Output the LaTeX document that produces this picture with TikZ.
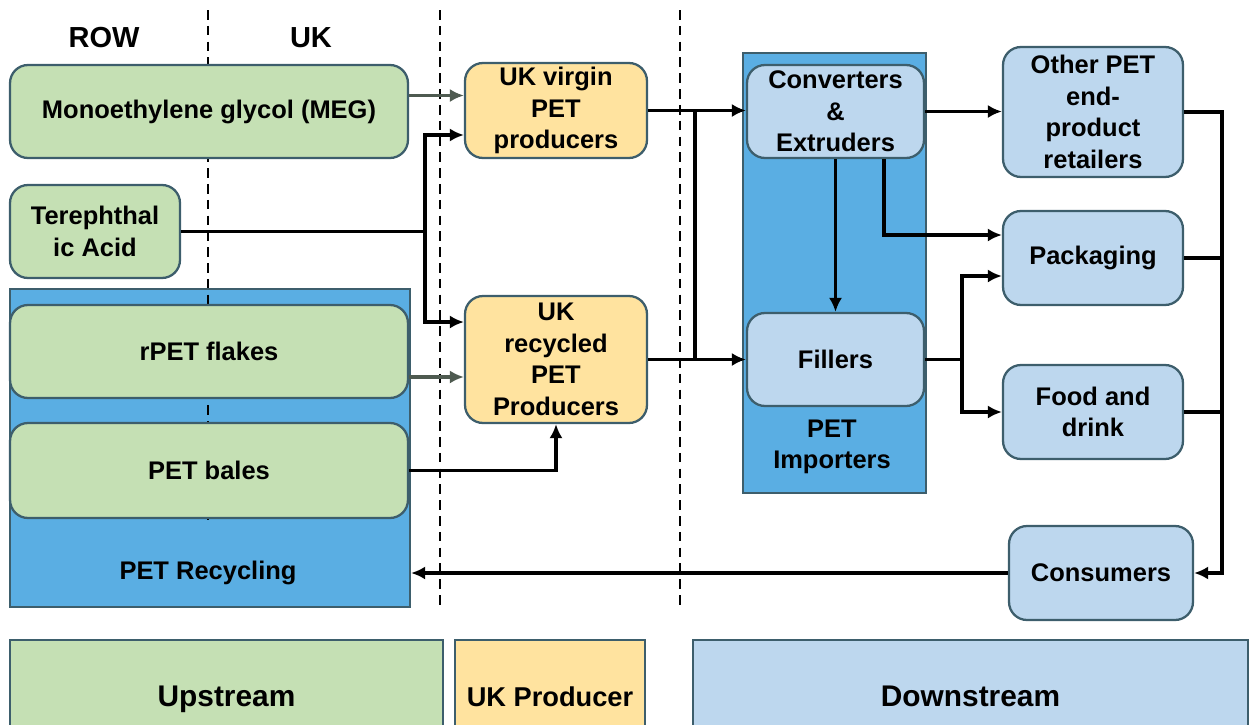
\documentclass[tikz,border=0pt]{standalone}
\usepackage{fontspec}
\setmainfont{Liberation Sans}
\usetikzlibrary{arrows.meta, positioning, calc}
\definecolor{upgreen}{HTML}{C5E0B4}
\definecolor{prodyellow}{HTML}{FFE39F}
\definecolor{downblue}{HTML}{BDD7EE}
\definecolor{groupblue}{HTML}{5AAEE3}
\definecolor{edgeslate}{HTML}{3D5E6C}
\definecolor{feedgray}{HTML}{4E5A50}
\tikzset{
x=0.02cm, y=-0.02cm, % one unit is one pixel of the reference
>={Latex[length=8pt, width=7.5pt]}, % filled arrow heads
boxtext/.style={font=\fontsize{14.5}{18}\selectfont\bfseries, align=center},
block/.style={boxtext, draw=edgeslate, line width=1.3pt, rounded corners=0.36cm, inner sep=0pt},
upbox/.style={block, fill=upgreen}, % upstream inputs
prodbox/.style={block, fill=prodyellow}, % UK producers
downbox/.style={block, fill=downblue}, % downstream actors
groupbox/.style={draw=edgeslate, line width=1.3pt, fill=groupblue, inner sep=0pt}, % grouping panels
legendbox/.style={draw=edgeslate, line width=1.3pt, inner sep=0pt},
legendtext/.style={font=\fontsize{17}{20}\selectfont\bfseries, anchor=base},
flow/.style={line width=2.1pt, black},
feed/.style={line width=2pt, feedgray},
divider/.style={line width=1.3pt, dash pattern=on 5.5pt off 3.5pt},
}
\begin{document}
\begin{tikzpicture}
    \useasboundingbox (0,0) rectangle (1254,724);
    \clip (0,0) rectangle (1254,724);

    % Grouping panels
    \node[groupbox, minimum width=8cm, minimum height=6.36cm] (recycling) at (210,448) {};
    \node[groupbox, minimum width=3.66cm, minimum height=8.8cm] (importers) at (834.5,273) {};

    % Region dividers
    \draw[divider] (208,10) -- (208,520);
    \draw[divider] (440,10) -- (440,610);
    \draw[divider] (680,10) -- (680,610);
    \node[font=\fontsize{16.5}{20}\selectfont\bfseries] (row) at (104,38) {ROW};
    \node[font=\fontsize{16.5}{20}\selectfont\bfseries] (uk) at (311,38) {UK};

    % Upstream
    \node[upbox, minimum width=7.96cm, minimum height=1.86cm] (meg) at (209,111.5) {Monoethylene glycol (MEG)};
    \node[upbox, minimum width=3.4cm, minimum height=1.86cm] (tpa) at (95,231.5) {Terephthal\\ic Acid};
    \node[upbox, minimum width=7.96cm, minimum height=1.86cm] (flakes) at (209,351.5) {rPET flakes};
    \node[upbox, minimum width=7.96cm, minimum height=1.9cm] (bales) at (209,470.5) {PET bales};
    \node[boxtext] (recyclinglabel) at (208,573) {PET Recycling};

    % UK producers
    \node[prodbox, minimum width=3.64cm, minimum height=1.9cm] (virgin) at (556,110.5) {UK virgin\\PET\\producers};
    \node[prodbox, minimum width=3.64cm, minimum height=2.54cm] (recycled) at (556,359.5) {UK\\recycled\\PET\\Producers};

    % Downstream
    \node[downbox, minimum width=3.54cm, minimum height=1.86cm] (conv) at (835.5,111.5) {Converters\\\&\\Extruders};
    \node[downbox, minimum width=3.54cm, minimum height=1.86cm] (fillers) at (835.5,359.5) {Fillers};
    \node[boxtext] (importerslabel) at (832,447) {PET\\Importers};
    \node[downbox, minimum width=3.6cm, minimum height=2.6cm] (other) at (1093,112) {Other PET\\end-\\product\\retailers};
    \node[downbox, minimum width=3.6cm, minimum height=1.88cm] (packaging) at (1093,258) {Packaging};
    \node[downbox, minimum width=3.6cm, minimum height=1.88cm] (food) at (1093,412) {Food and\\drink};
    \node[downbox, minimum width=3.68cm, minimum height=1.88cm] (consumers) at (1101,573) {Consumers};

    % Junctions
    \coordinate (tj) at (425,231.5);
    \coordinate (pj1) at (695,110.5);
    \coordinate (pj2) at (695,359.5);
    \coordinate (fj) at (962,359.5);
    \coordinate (rj) at (1222,573);

    % Into the producers
    \draw[feed, ->] ([yshift=0.32cm]meg.east) -- ([yshift=0.32cm]meg.east -| virgin.west);
    \draw[flow] (tpa.east) -- (tj);
    \draw[flow, ->] (tj) |- ([yshift=-0.49cm]virgin.west);
    \draw[flow, ->] (tj) |- ([yshift=0.75cm]recycled.west);
    \draw[feed, ->] ([yshift=-0.51cm]flakes.east) -- ([yshift=-0.51cm]flakes.east -| recycled.west);
    \draw[flow, ->] (bales.east) -| (recycled.south);

    % Producers to downstream
    \draw[flow, ->] (virgin.east) -- (virgin.east -| conv.west);
    \draw[flow, ->] (recycled.east) -- (fillers.west);
    \draw[flow] (pj1) -- (pj2);
    \draw[flow, ->] (conv.east) -- (conv.east -| other.west);
    \draw[flow, ->] (conv.south) -- (fillers.north);
    \draw[flow, ->] ([xshift=0.97cm]conv.south) |- ([yshift=0.46cm]packaging.west);
    \draw[flow] (fillers.east) -- (fj);
    \draw[flow, ->] (fj) |- ([yshift=-0.36cm]packaging.west);
    \draw[flow, ->] (fj) |- (food.west);

    % Back to consumers and recycling
    \draw[flow] (packaging.east) -- (packaging.east -| rj);
    \draw[flow] (food.east) -- (food.east -| rj);
    \draw[flow, ->] (other.east) -| (rj) -- (consumers.east);
    \draw[flow, ->] (consumers.west) -- (consumers.west -| recycling.east);

    % Legend
    \node[legendbox, fill=upgreen, minimum width=8.66cm, minimum height=2.4cm] (legup) at (226.5,700) {};
    \node[legendbox, fill=prodyellow, minimum width=3.8cm, minimum height=2.4cm] (legprod) at (550,700) {};
    \node[legendbox, fill=downblue, minimum width=11.1cm, minimum height=2.4cm] (legdown) at (970.5,700) {};
    \node[legendtext] (upstream) at (226.5,706) {Upstream};
    \node[legendtext, font=\fontsize{15.5}{20}\selectfont\bfseries] (ukproducer) at (550,706) {UK Producer};
    \node[legendtext] (downstream) at (970.5,706) {Downstream};
\end{tikzpicture}
\end{document}
